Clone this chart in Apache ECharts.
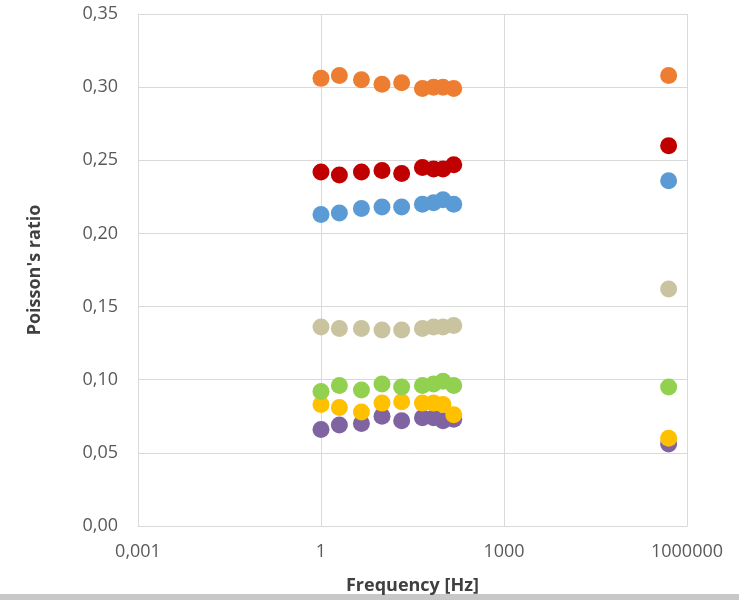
<!DOCTYPE html>
<html>
<head>
<meta charset="utf-8">
<script src="https://cdn.jsdelivr.net/npm/echarts@6/dist/echarts.min.js"></script>
<style>html,body{margin:0;padding:0;background:#fff;}#c{width:739px;height:600px;}</style>
</head>
<body>
<div id="c"></div>
<script>
var frequencies = [1, 2, 4.6, 10, 21, 46, 70, 100, 150, 500000];
var xTicks = ['0,001', '1', '1000', '1000000'];
var yTicks = ['0,00', '0,05', '0,10', '0,15', '0,20', '0,25', '0,30', '0,35'];
var orange = [0.306, 0.308, 0.305, 0.302, 0.303, 0.299, 0.300, 0.300, 0.299, 0.308];
var red    = [0.242, 0.240, 0.242, 0.243, 0.241, 0.245, 0.244, 0.244, 0.247, 0.260];
var blue   = [0.213, 0.214, 0.217, 0.218, 0.218, 0.220, 0.221, 0.223, 0.220, 0.236];
var beige  = [0.136, 0.135, 0.135, 0.134, 0.134, 0.135, 0.136, 0.136, 0.137, 0.162];
var green  = [0.092, 0.096, 0.093, 0.097, 0.095, 0.096, 0.097, 0.099, 0.096, 0.095];
var yellow = [0.083, 0.081, 0.078, 0.084, 0.085, 0.084, 0.084, 0.083, 0.076, 0.060];
var purple = [0.066, 0.069, 0.070, 0.075, 0.072, 0.074, 0.074, 0.072, 0.073, 0.056];

function pts(vals) { return frequencies.map(function (f, i) { return [f, vals[i]]; }); }
function ser(name, vals, color) {
  return { name: name, type: 'scatter', data: pts(vals), symbolSize: 17,
           itemStyle: { color: color, opacity: 1 } };
}
var font = 'Open Sans';
var chart = echarts.init(document.getElementById('c'));
chart.setOption({
  animation: false,
  grid: { left: 138, right: 52, top: 14, bottom: 74 },
  xAxis: {
    type: 'log', logBase: 1000, min: 0.001, max: 1000000,
    name: 'Frequency [Hz]', nameLocation: 'middle', nameGap: 51,
    nameTextStyle: { fontFamily: font, fontSize: 18, fontWeight: 'bold', color: '#404040' },
    axisLine: { lineStyle: { color: '#d9d9d9' } },
    axisTick: { show: false }, minorTick: { show: false },
    splitLine: { show: true, lineStyle: { color: '#d9d9d9', width: 1 } },
    axisLabel: { fontFamily: font, fontSize: 18, color: '#595959', margin: 17,
      formatter: function (v) { var k = Math.round(Math.log(v) / Math.log(1000)) + 1; return xTicks[k]; } }
  },
  yAxis: {
    type: 'value', min: 0, max: 0.35, interval: 0.05,
    name: "Poisson's ratio", nameLocation: 'middle', nameGap: 94, nameRotate: 90,
    nameTextStyle: { fontFamily: font, fontSize: 18, fontWeight: 'bold', color: '#404040' },
    axisLine: { show: true, lineStyle: { color: '#d9d9d9' } },
    axisTick: { show: false },
    splitLine: { show: true, lineStyle: { color: '#d9d9d9', width: 1 } },
    axisLabel: { fontFamily: font, fontSize: 18, color: '#595959', margin: 20,
      formatter: function (v) { return yTicks[Math.round(v / 0.05)]; } }
  },
  series: [
    ser('Purple', purple, '#8064A2'),
    ser('Yellow', yellow, '#FFC000'),
    ser('Green', green, '#92D050'),
    ser('Beige', beige, '#C9C3A0'),
    ser('Blue', blue, '#5B9BD5'),
    ser('Red', red, '#C00000'),
    ser('Orange', orange, '#ED7D31')
  ],
  graphic: [{ type: 'rect', left: 0, top: 594, shape: { width: 739, height: 6 }, style: { fill: '#c8c8c8' } }]
});
</script>
</body>
</html>
